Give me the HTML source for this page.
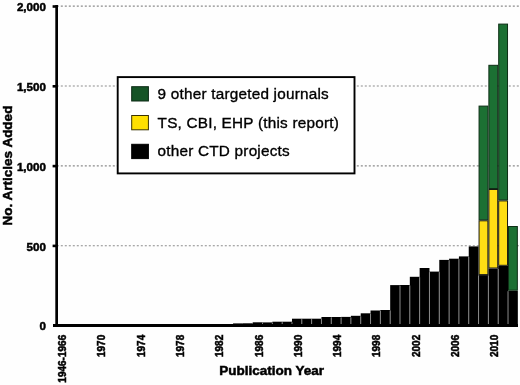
<!DOCTYPE html>
<html><head><meta charset="utf-8"><style>
html,body{margin:0;padding:0;background:#fff;}
svg{display:block;will-change:transform;} text.b{stroke:#000;stroke-width:0.5px;} text.r{stroke:#000;stroke-width:0.35px;} svg{font-family:"Liberation Sans", sans-serif;}
</style></head><body>
<svg width="520" height="385" viewBox="0 0 520 385">
<rect width="520" height="385" fill="#fefefe"/>
<line x1="56.8" y1="6.10" x2="520" y2="6.10" stroke="#8c8c8c" stroke-width="1.1" stroke-dasharray="2 2"/>
<line x1="56.8" y1="86.00" x2="520" y2="86.00" stroke="#8c8c8c" stroke-width="1.1" stroke-dasharray="2 2"/>
<line x1="56.8" y1="165.90" x2="520" y2="165.90" stroke="#8c8c8c" stroke-width="1.1" stroke-dasharray="2 2"/>
<line x1="56.8" y1="245.80" x2="520" y2="245.80" stroke="#8c8c8c" stroke-width="1.1" stroke-dasharray="2 2"/>
<rect x="117.7" y="77.1" width="236.8" height="96.3" fill="#fff" stroke="#000" stroke-width="1.9"/>
<rect x="131.7" y="86.7" width="16.7" height="14.3" fill="#155426" stroke="#0c2a14" stroke-width="1"/>
<rect x="131.7" y="115.5" width="16.7" height="14.3" fill="#ffe000" stroke="#3a3200" stroke-width="1"/>
<rect x="131.7" y="144.3" width="16.7" height="14.3" fill="#000" stroke="#000" stroke-width="1"/>
<text x="157.6" y="98.7" font-size="15.3" letter-spacing="0.22" class="r">9 other targeted journals</text>
<text x="157.6" y="127.5" font-size="15.3" letter-spacing="0.22" class="r">TS, CBI, EHP (this report)</text>
<text x="157.6" y="156.3" font-size="15.3" letter-spacing="0.22" class="r">other CTD projects</text>
<rect x="233.06" y="323.40" width="9.82" height="1.60" fill="#000"/>
<rect x="242.88" y="323.30" width="9.82" height="1.70" fill="#000"/>
<rect x="252.70" y="322.30" width="9.82" height="2.70" fill="#000"/>
<rect x="262.52" y="322.40" width="9.82" height="2.60" fill="#000"/>
<rect x="272.34" y="321.70" width="9.82" height="3.30" fill="#000"/>
<rect x="282.16" y="321.70" width="9.82" height="3.30" fill="#000"/>
<rect x="291.98" y="318.70" width="9.82" height="6.30" fill="#000"/>
<rect x="301.80" y="318.70" width="9.82" height="6.30" fill="#000"/>
<rect x="311.62" y="318.70" width="9.82" height="6.30" fill="#000"/>
<rect x="321.44" y="317.00" width="9.82" height="8.00" fill="#000"/>
<rect x="331.26" y="317.00" width="9.82" height="8.00" fill="#000"/>
<rect x="341.08" y="316.90" width="9.82" height="8.10" fill="#000"/>
<rect x="350.90" y="315.80" width="9.82" height="9.20" fill="#000"/>
<rect x="360.72" y="313.30" width="9.82" height="11.70" fill="#000"/>
<rect x="370.54" y="310.50" width="9.82" height="14.50" fill="#000"/>
<rect x="380.36" y="310.00" width="9.82" height="15.00" fill="#000"/>
<rect x="390.18" y="285.10" width="9.82" height="39.90" fill="#000"/>
<rect x="400.00" y="285.00" width="9.82" height="40.00" fill="#000"/>
<rect x="409.82" y="276.80" width="9.82" height="48.20" fill="#000"/>
<rect x="419.64" y="268.00" width="9.82" height="57.00" fill="#000"/>
<rect x="429.46" y="271.60" width="9.82" height="53.40" fill="#000"/>
<rect x="439.28" y="259.90" width="9.82" height="65.10" fill="#000"/>
<rect x="449.10" y="258.70" width="9.82" height="66.30" fill="#000"/>
<rect x="458.92" y="256.40" width="9.82" height="68.60" fill="#000"/>
<rect x="468.74" y="246.40" width="9.82" height="78.60" fill="#000"/>
<rect x="478.56" y="275.10" width="9.82" height="49.90" fill="#000"/>
<rect x="488.38" y="268.50" width="9.82" height="56.50" fill="#000"/>
<rect x="498.20" y="265.80" width="9.82" height="59.20" fill="#000"/>
<rect x="508.02" y="290.70" width="9.82" height="34.30" fill="#000"/>
<rect x="479.06" y="220.80" width="8.82" height="53.80" fill="#ffde14" stroke="#1a1a10" stroke-width="1"/>
<rect x="488.88" y="189.50" width="8.82" height="78.50" fill="#ffde14" stroke="#1a1a10" stroke-width="1"/>
<rect x="498.70" y="200.90" width="8.82" height="64.40" fill="#ffde14" stroke="#1a1a10" stroke-width="1"/>
<rect x="479.06" y="106.10" width="8.82" height="113.70" fill="#1c7033" stroke="#0e2e16" stroke-width="1"/>
<rect x="488.88" y="65.30" width="8.82" height="123.20" fill="#1c7033" stroke="#0e2e16" stroke-width="1"/>
<rect x="498.70" y="24.10" width="8.82" height="175.80" fill="#1c7033" stroke="#0e2e16" stroke-width="1"/>
<rect x="508.52" y="226.50" width="8.82" height="63.70" fill="#1c7033" stroke="#0e2e16" stroke-width="1"/>
<line x1="262.52" y1="322.90" x2="262.52" y2="324.00" stroke="#8a8a8a" stroke-width="1"/>
<line x1="272.34" y1="322.90" x2="272.34" y2="324.00" stroke="#8a8a8a" stroke-width="1"/>
<line x1="282.16" y1="322.20" x2="282.16" y2="324.00" stroke="#8a8a8a" stroke-width="1"/>
<line x1="291.98" y1="322.20" x2="291.98" y2="324.00" stroke="#8a8a8a" stroke-width="1"/>
<line x1="301.80" y1="319.20" x2="301.80" y2="324.00" stroke="#8a8a8a" stroke-width="1"/>
<line x1="311.62" y1="319.20" x2="311.62" y2="324.00" stroke="#8a8a8a" stroke-width="1"/>
<line x1="321.44" y1="319.20" x2="321.44" y2="324.00" stroke="#8a8a8a" stroke-width="1"/>
<line x1="331.26" y1="317.50" x2="331.26" y2="324.00" stroke="#8a8a8a" stroke-width="1"/>
<line x1="341.08" y1="317.50" x2="341.08" y2="324.00" stroke="#8a8a8a" stroke-width="1"/>
<line x1="350.90" y1="317.40" x2="350.90" y2="324.00" stroke="#8a8a8a" stroke-width="1"/>
<line x1="360.72" y1="316.30" x2="360.72" y2="324.00" stroke="#8a8a8a" stroke-width="1"/>
<line x1="370.54" y1="313.80" x2="370.54" y2="324.00" stroke="#8a8a8a" stroke-width="1"/>
<line x1="380.36" y1="311.00" x2="380.36" y2="324.00" stroke="#8a8a8a" stroke-width="1"/>
<line x1="390.18" y1="310.50" x2="390.18" y2="324.00" stroke="#8a8a8a" stroke-width="1"/>
<line x1="400.00" y1="285.60" x2="400.00" y2="324.00" stroke="#8a8a8a" stroke-width="1"/>
<line x1="409.82" y1="285.50" x2="409.82" y2="324.00" stroke="#8a8a8a" stroke-width="1"/>
<line x1="419.64" y1="277.30" x2="419.64" y2="324.00" stroke="#8a8a8a" stroke-width="1"/>
<line x1="429.46" y1="272.10" x2="429.46" y2="324.00" stroke="#8a8a8a" stroke-width="1"/>
<line x1="439.28" y1="272.10" x2="439.28" y2="324.00" stroke="#8a8a8a" stroke-width="1"/>
<line x1="449.10" y1="260.40" x2="449.10" y2="324.00" stroke="#8a8a8a" stroke-width="1"/>
<line x1="458.92" y1="259.20" x2="458.92" y2="324.00" stroke="#8a8a8a" stroke-width="1"/>
<line x1="468.74" y1="256.90" x2="468.74" y2="324.00" stroke="#8a8a8a" stroke-width="1"/>
<line x1="478.56" y1="275.60" x2="478.56" y2="324.00" stroke="#8a8a8a" stroke-width="1"/>
<line x1="488.38" y1="275.60" x2="488.38" y2="324.00" stroke="#8a8a8a" stroke-width="1"/>
<line x1="498.20" y1="269.00" x2="498.20" y2="324.00" stroke="#8a8a8a" stroke-width="1"/>
<line x1="508.02" y1="291.20" x2="508.02" y2="324.00" stroke="#8a8a8a" stroke-width="1"/>
<rect x="55.3" y="5" width="2.7" height="322" fill="#000"/>
<rect x="53" y="324" width="465" height="3" fill="#000"/>
<rect x="52.6" y="5.20" width="5.4" height="2.6" fill="#000"/>
<rect x="52.6" y="85.00" width="5.4" height="2.6" fill="#000"/>
<rect x="52.6" y="164.80" width="5.4" height="2.6" fill="#000"/>
<rect x="52.6" y="244.60" width="5.4" height="2.6" fill="#000"/>
<text x="45.9" y="11.10" font-size="11.6" font-weight="bold" class="b" text-anchor="end">2,000</text>
<text x="45.9" y="90.90" font-size="11.6" font-weight="bold" class="b" text-anchor="end">1,500</text>
<text x="45.9" y="170.70" font-size="11.6" font-weight="bold" class="b" text-anchor="end">1,000</text>
<text x="45.9" y="250.50" font-size="11.6" font-weight="bold" class="b" text-anchor="end">500</text>
<text x="45.9" y="330.30" font-size="11.6" font-weight="bold" class="b" text-anchor="end">0</text>
<text transform="translate(66.11,334.8) rotate(-90)" font-size="10" font-weight="bold" class="b" text-anchor="end">1946-1966</text>
<text transform="translate(105.39,334.8) rotate(-90)" font-size="10" font-weight="bold" class="b" text-anchor="end">1970</text>
<text transform="translate(144.67,334.8) rotate(-90)" font-size="10" font-weight="bold" class="b" text-anchor="end">1974</text>
<text transform="translate(183.95,334.8) rotate(-90)" font-size="10" font-weight="bold" class="b" text-anchor="end">1978</text>
<text transform="translate(223.23,334.8) rotate(-90)" font-size="10" font-weight="bold" class="b" text-anchor="end">1982</text>
<text transform="translate(262.51,334.8) rotate(-90)" font-size="10" font-weight="bold" class="b" text-anchor="end">1986</text>
<text transform="translate(301.79,334.8) rotate(-90)" font-size="10" font-weight="bold" class="b" text-anchor="end">1990</text>
<text transform="translate(341.07,334.8) rotate(-90)" font-size="10" font-weight="bold" class="b" text-anchor="end">1994</text>
<text transform="translate(380.35,334.8) rotate(-90)" font-size="10" font-weight="bold" class="b" text-anchor="end">1998</text>
<text transform="translate(419.63,334.8) rotate(-90)" font-size="10" font-weight="bold" class="b" text-anchor="end">2002</text>
<text transform="translate(458.91,334.8) rotate(-90)" font-size="10" font-weight="bold" class="b" text-anchor="end">2006</text>
<text transform="translate(498.19,334.8) rotate(-90)" font-size="10" font-weight="bold" class="b" text-anchor="end">2010</text>
<text transform="translate(11.6,165.5) rotate(-90)" font-size="13.5" font-weight="bold" class="b" text-anchor="middle">No. Articles Added</text>
<text x="219.2" y="374.5" font-size="13.5" font-weight="bold" class="b">Publication Year</text>
</svg>
</body></html>
